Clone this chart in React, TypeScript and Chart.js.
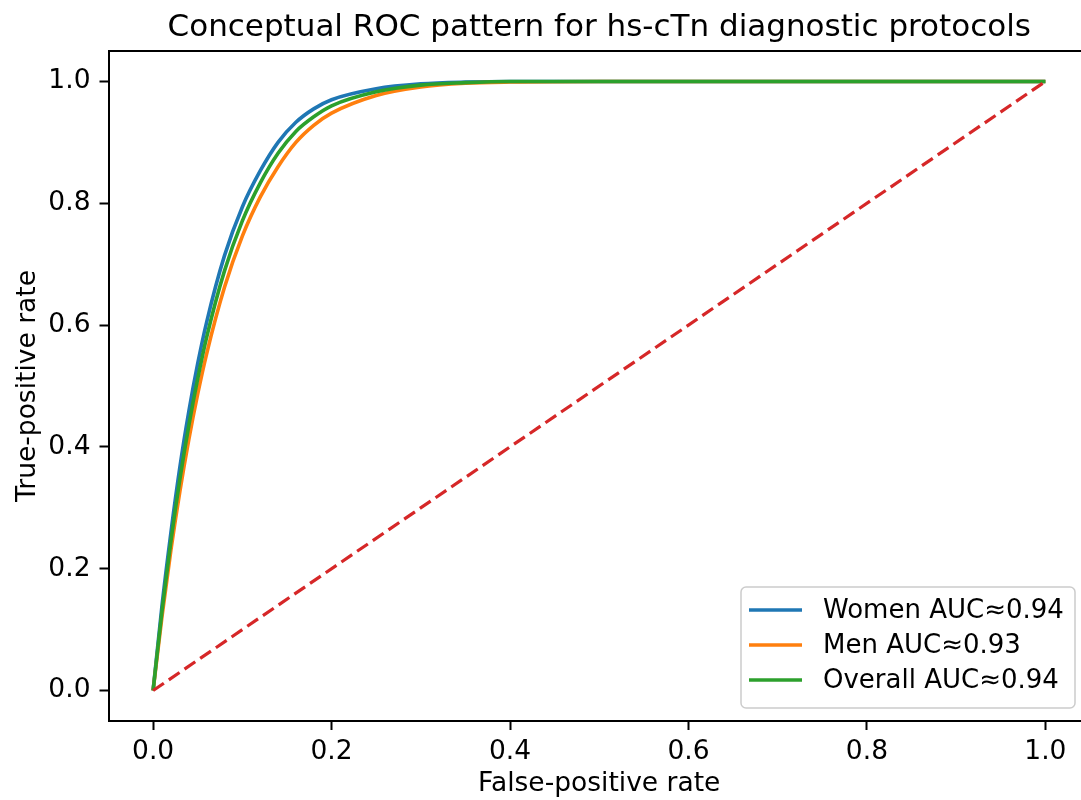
import React, { useEffect, useRef } from 'react';
import { Chart, registerables } from 'chart.js';

Chart.register(...registerables);

const FONT = '"DejaVu Sans", "Liberation Sans", sans-serif';

const titleText = 'Conceptual ROC pattern for hs-cTn diagnostic protocols';
const xAxisLabel = 'False-positive rate';
const yAxisLabel = 'True-positive rate';

const xTicks = [0, 0.2, 0.4, 0.6, 0.8, 1.0];
const yTicks = [0, 0.2, 0.4, 0.6, 0.8, 1.0];

const fprGrid = [0, 0.01, 0.02, 0.03, 0.04, 0.05, 0.06, 0.08, 0.1, 0.12, 0.14, 0.16, 0.18, 0.2, 0.25, 0.3, 0.35, 0.4, 0.5, 0.6, 0.8, 1.0];
const tprWomen = [0, 0.14, 0.26, 0.367, 0.458, 0.537, 0.605, 0.714, 0.794, 0.853, 0.9, 0.933, 0.955, 0.97, 0.988, 0.996, 0.999, 1.0, 1.0, 1.0, 1.0, 1.0];
const tprMen = [0, 0.122, 0.231, 0.327, 0.412, 0.487, 0.553, 0.662, 0.746, 0.81, 0.86, 0.9, 0.928, 0.948, 0.977, 0.991, 0.997, 0.999, 1.0, 1.0, 1.0, 1.0];
const tprOverall = [0, 0.131, 0.246, 0.347, 0.435, 0.512, 0.58, 0.689, 0.771, 0.833, 0.882, 0.918, 0.942, 0.96, 0.983, 0.994, 0.998, 1.0, 1.0, 1.0, 1.0, 1.0];

const chanceFpr = [0, 1];
const chanceTpr = [0, 1];

const seriesLabels = ['Women AUC≈0.94', 'Men AUC≈0.93', 'Overall AUC≈0.94'];
const seriesColors = ['#1f77b4', '#ff7f0e', '#2ca02c'];
const chanceColor = '#d62728';

const toPoints = (xs: number[], ys: number[]) => xs.map((x, i) => ({ x, y: ys[i] }));

const mplPlugin = {
  id: 'mplExtras',
  afterDraw(chart: any) {
    const { ctx, chartArea } = chart;
    ctx.save();
    // top and right spines
    ctx.strokeStyle = '#000';
    ctx.lineWidth = 2;
    ctx.beginPath();
    ctx.moveTo(chartArea.left, chartArea.top);
    ctx.lineTo(chartArea.right, chartArea.top);
    ctx.lineTo(chartArea.right, chartArea.bottom);
    ctx.stroke();

    // title centred over the axes
    ctx.fillStyle = '#000';
    ctx.font = `31px ${FONT}`;
    ctx.textAlign = 'center';
    ctx.textBaseline = 'middle';
    ctx.fillText(titleText, (chartArea.left + chartArea.right) / 2, 28);

    // legend (lower right, inside axes)
    const w = 334;
    const h = 121;
    const right = chartArea.right - 15;
    const bottom = chartArea.bottom - 13;
    const left = right - w;
    const top = bottom - h;
    ctx.beginPath();
    ctx.roundRect(left, top, w, h, 5);
    ctx.fillStyle = 'rgba(255,255,255,0.8)';
    ctx.fill();
    ctx.strokeStyle = '#cccccc';
    ctx.lineWidth = 1.5;
    ctx.stroke();

    ctx.font = `26px ${FONT}`;
    ctx.textBaseline = 'middle';
    ctx.textAlign = 'left';
    seriesLabels.forEach((lab, i) => {
      const y = top + 23 + 35 * i;
      ctx.strokeStyle = seriesColors[i];
      ctx.lineWidth = 3.5;
      ctx.beginPath();
      ctx.moveTo(left + 8, y);
      ctx.lineTo(left + 61, y);
      ctx.stroke();
      ctx.fillStyle = '#000';
      ctx.fillText(lab, left + 82, y + 1);
    });
    ctx.restore();
  },
};

export default function App() {
  const canvasRef = useRef<HTMLCanvasElement | null>(null);

  useEffect(() => {
    if (!canvasRef.current) return;
    const curveSeries = [tprWomen, tprMen, tprOverall];
    const datasets: any[] = curveSeries.map((ys, i) => ({
      label: seriesLabels[i],
      data: toPoints(fprGrid, ys),
      borderColor: seriesColors[i],
      backgroundColor: seriesColors[i],
      borderWidth: 3.6,
      pointRadius: 0,
      showLine: true,
      fill: false,
      cubicInterpolationMode: 'monotone',
      order: 10 - i,
    }));
    datasets.push({
      label: 'Chance',
      data: toPoints(chanceFpr, chanceTpr),
      borderColor: chanceColor,
      backgroundColor: chanceColor,
      borderWidth: 3.2,
      borderDash: [13, 6],
      pointRadius: 0,
      showLine: true,
      fill: false,
      order: 1,
    });

    const tickFont = { family: FONT, size: 26.5 };
    const chart = new Chart(canvasRef.current, {
      type: 'scatter',
      data: { datasets },
      options: {
        animation: false,
        responsive: false,
        devicePixelRatio: 1,
        layout: { padding: { left: 0, right: 10, top: 51, bottom: 0 } },
        plugins: {
          legend: { display: false },
          tooltip: { enabled: false },
          title: { display: false },
        },
        scales: {
          x: {
            type: 'linear',
            min: -0.05,
            max: 1.05,
            afterBuildTicks: (s: any) => {
              s.ticks = xTicks.map((v) => ({ value: v }));
            },
            afterFit: (s: any) => {
              s.height = 79;
            },
            ticks: {
              color: '#000',
              font: tickFont,
              padding: 6,
              maxRotation: 0,
              autoSkip: false,
              callback: (v: any) => Number(v).toFixed(1),
            },
            grid: { drawOnChartArea: false, drawTicks: true, tickLength: 9, tickWidth: 2, tickColor: '#000' },
            border: { display: true, color: '#000', width: 2 },
            title: {
              display: true,
              text: xAxisLabel,
              color: '#000',
              font: { family: FONT, size: 26.5 },
              padding: { top: 0, bottom: 0 },
            },
          },
          y: {
            type: 'linear',
            min: -0.05,
            max: 1.05,
            afterBuildTicks: (s: any) => {
              s.ticks = yTicks.map((v) => ({ value: v }));
            },
            afterFit: (s: any) => {
              s.width = 108.5;
            },
            ticks: {
              color: '#000',
              font: tickFont,
              padding: 9,
              autoSkip: false,
              callback: (v: any) => Number(v).toFixed(1),
            },
            grid: { drawOnChartArea: false, drawTicks: true, tickLength: 9, tickWidth: 2, tickColor: '#000' },
            border: { display: true, color: '#000', width: 2 },
            title: {
              display: true,
              text: yAxisLabel,
              color: '#000',
              font: { family: FONT, size: 26.5 },
              padding: { top: 12, bottom: 0 },
            },
          },
        },
      },
      plugins: [mplPlugin],
    } as any);
    return () => chart.destroy();
  }, []);

  return (
    <div
      style={{
        position: 'fixed',
        left: 0,
        top: 0,
        width: 1081,
        height: 800,
        overflow: 'hidden',
        background: '#fff',
      }}
    >
      <canvas ref={canvasRef} width={1100} height={800} style={{ width: 1100, height: 800, display: 'block' }} />
    </div>
  );
}
